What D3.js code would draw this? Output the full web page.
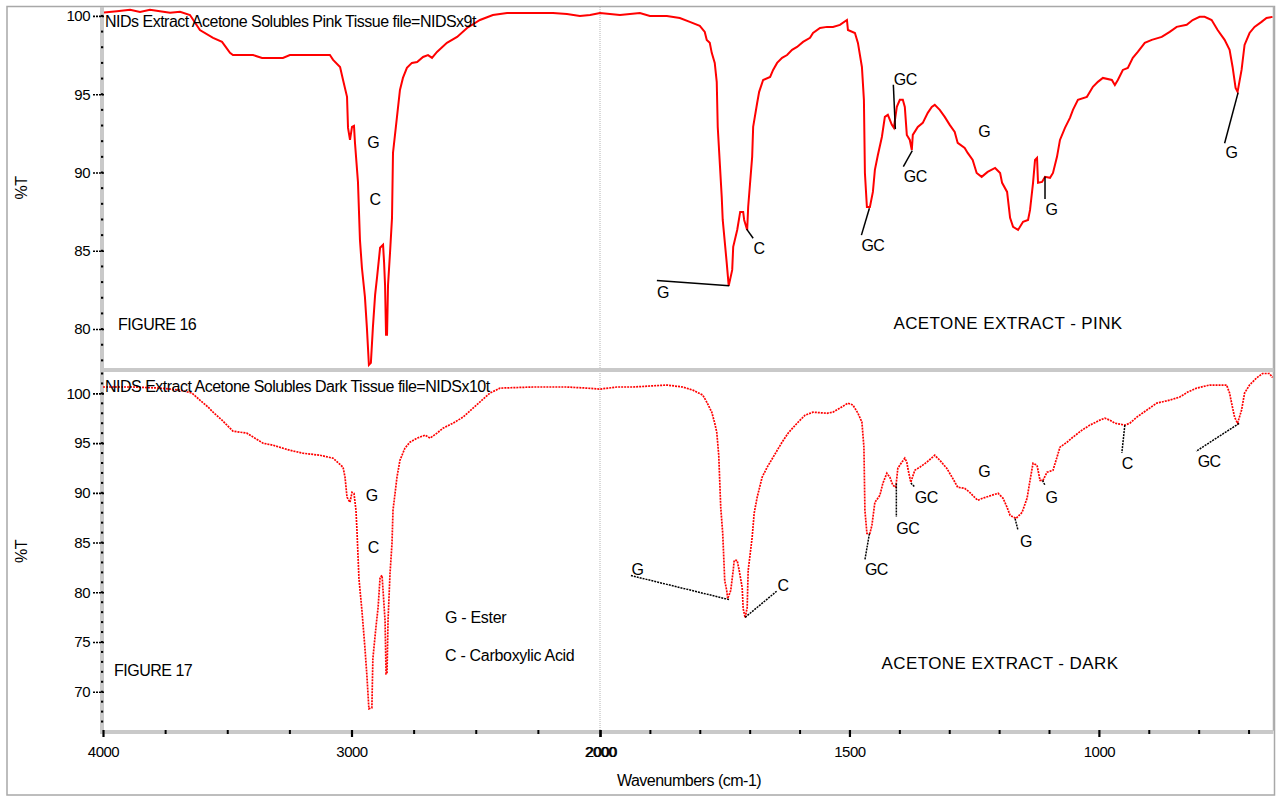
<!DOCTYPE html>
<html><head><meta charset="utf-8">
<script src="https://cdn.jsdelivr.net/npm/d3@7"></script>
<style>
body{margin:0;background:#fff;}
svg text{font-family:"Liberation Sans",Arial,sans-serif;fill:#000;letter-spacing:-0.5px;}
</style></head><body>
<svg id="chart" width="1276" height="797"></svg>
<script>
// ---------- DATA ----------
const pinkTitle = "NIDs Extract Acetone Solubles Pink Tissue file=NIDSx9t";
const darkTitle = "NIDS Extract Acetone Solubles Dark Tissue file=NIDSx10t";
const pinkSpectrum = [
[3996,100.22],[3944,100.3],[3891,100.4],[3851,100.26],[3811,100.4],[3771,100.3],[3730,100.2],[3690,100.26],[3650,100.06],[3610,99.1],
[3557,98.6],[3521,98.34],[3489,97.64],[3477,97.5],[3396,97.5],[3360,97.32],[3276,97.32],[3248,97.5],[3087,97.5],[3074,97.19],
[3046,96.74],[3034,95.91],[3018,94.83],[3014,92.85],[3006,92.08],[2998,92.91],[2990,92.98],[2986,91.89],[2974,89.4],[2966,85.7],
[2958,83.9],[2946,82.06],[2938,80.08],[2930,77.71],[2922,77.84],[2914,80.08],[2905,82.18],[2897,83.33],[2885,85.19],[2873,85.38],
[2869,84.29],[2865,82.82],[2861,79.63],[2857,79.63],[2853,82.82],[2845,84.87],[2837,87.1],[2833,91.25],[2817,93.55],[2805,95.27],
[2793,96.04],[2777,96.68],[2757,97.0],[2736,97.06],[2712,97.38],[2692,97.5],[2676,97.32],[2656,97.7],[2616,98.28],[2575,98.66],
[2535,99.23],[2483,99.74],[2431,100.06],[2374,100.19],[2270,100.19],[2189,100.19],[2133,100.13],[2081,100.0],[2040,100.06],[2000,100.19],
[1960,100.06],[1920,100.19],[1900,100.0],[1866,100.0],[1840,99.87],[1820,99.62],[1800,99.36],[1790,98.98],[1786,98.47],[1780,98.28],
[1776,97.64],[1770,97.0],[1766,95.79],[1764,92.91],[1756,88.44],[1754,86.97],[1746,84.23],[1742,82.76],[1735,83.78],[1733,85.25],
[1725,86.33],[1719,87.48],[1713,87.48],[1711,86.97],[1705,86.33],[1703,87.8],[1695,91.0],[1693,92.91],[1685,94.44],[1681,95.15],
[1673,95.91],[1659,96.1],[1653,96.55],[1645,97.0],[1635,97.32],[1625,97.5],[1615,97.83],[1605,98.02],[1593,98.34],[1579,98.6],
[1573,98.91],[1559,99.23],[1545,99.3],[1533,99.3],[1519,99.43],[1505,99.74],[1503,99.1],[1489,98.91],[1483,98.28],[1475,96.74],
[1471,94.64],[1469,89.97],[1465,87.8],[1459,87.8],[1453,88.76],[1449,90.17],[1443,91.12],[1435,92.27],[1429,93.55],[1423,93.68],
[1415,93.04],[1411,92.85],[1405,94.19],[1399,94.64],[1393,94.64],[1389,94.19],[1385,92.4],[1379,92.08],[1375,91.44],[1373,92.4],
[1363,92.91],[1353,93.17],[1343,93.81],[1335,94.19],[1329,94.32],[1319,94.0],[1309,93.55],[1299,93.04],[1289,92.59],[1283,91.89],
[1269,91.57],[1263,91.25],[1253,90.8],[1245,89.97],[1235,89.72],[1223,90.04],[1208,90.29],[1198,89.97],[1194,89.34],[1184,88.76],
[1178,87.1],[1172,86.53],[1162,86.33],[1152,86.85],[1142,86.97],[1138,87.61],[1132,89.34],[1128,90.8],[1124,90.93],[1122,89.34],
[1114,89.4],[1108,89.72],[1098,89.66],[1092,89.97],[1084,91.0],[1078,92.08],[1068,92.85],[1058,93.49],[1052,94.0],[1042,94.64],
[1024,94.83],[1012,95.47],[1002,95.79],[992,96.04],[974,95.91],[968,95.59],[962,95.91],[952,96.55],[942,96.68],[932,97.32],
[922,97.7],[908,98.28],[894,98.47],[874,98.66],[858,98.98],[844,99.3],[824,99.43],[812,99.74],[798,99.94],[788,99.94],
[774,99.74],[762,99.1],[748,98.47],[738,97.83],[732,96.74],[726,95.4],[722,95.15],[714,96.55],[708,98.15],[698,98.91],
[688,99.3],[674,99.62],[664,99.87],[652,99.94]
];
const darkSpectrum = [
[4000,100.64],[3879,100.64],[3771,100.53],[3690,100.33],[3642,100.03],[3610,99.32],[3577,98.62],[3557,98.11],[3521,97.31],[3489,96.5],
[3477,96.2],[3421,96.0],[3356,94.99],[3316,94.79],[3248,94.28],[3195,93.98],[3127,93.78],[3074,93.48],[3034,92.57],[3026,91.57],
[3018,89.55],[3006,89.05],[2998,90.05],[2990,89.95],[2982,88.24],[2978,86.22],[2970,81.38],[2958,78.15],[2946,74.42],[2938,71.6],
[2930,68.28],[2918,68.38],[2914,73.32],[2901,76.65],[2893,78.47],[2885,81.49],[2877,81.69],[2873,80.17],[2865,77.15],[2861,71.8],
[2857,71.8],[2853,77.15],[2845,81.89],[2837,84.92],[2833,88.24],[2817,91.57],[2805,93.28],[2785,94.49],[2765,95.09],[2736,95.5],
[2704,95.8],[2684,95.5],[2656,96.0],[2632,96.5],[2592,97.0],[2551,97.61],[2511,98.52],[2475,99.32],[2443,100.03],[2402,100.53],
[2270,100.64],[2133,100.64],[2053,100.53],[2000,100.43],
[1966,100.64],[1934,100.64],[1866,100.84],[1834,100.64],[1814,100.33],[1794,99.83],[1786,99.12],[1776,98.11],[1770,97.0],[1766,96.1],
[1762,93.78],[1758,88.54],[1754,85.92],[1750,81.18],[1746,80.17],[1744,79.37],[1738,80.17],[1733,82.19],[1731,83.2],[1725,83.2],
[1721,82.19],[1715,80.48],[1713,78.36],[1709,77.45],[1705,78.46],[1703,82.19],[1695,85.52],[1691,87.94],[1685,89.55],[1675,91.57],
[1665,92.57],[1653,93.58],[1635,95.1],[1623,96.0],[1605,97.0],[1589,97.81],[1573,98.11],[1545,98.0],[1533,98.11],[1519,98.52],
[1503,99.02],[1493,98.82],[1483,98.01],[1475,97.11],[1471,94.59],[1469,88.24],[1465,85.92],[1459,85.92],[1455,86.73],[1449,89.04],
[1439,89.75],[1433,90.96],[1425,91.97],[1419,91.57],[1413,90.76],[1407,90.56],[1403,92.47],[1395,93.08],[1389,93.48],[1385,93.08],
[1383,92.47],[1377,91.06],[1369,92.27],[1359,92.57],[1345,93.08],[1329,93.78],[1319,93.28],[1305,92.47],[1293,91.46],[1283,90.56],
[1269,90.45],[1259,90.05],[1249,89.55],[1243,89.25],[1233,89.45],[1215,89.75],[1202,89.95],[1192,89.45],[1184,88.54],[1178,87.73],
[1166,87.43],[1154,88.03],[1144,89.45],[1138,91.26],[1132,92.97],[1124,92.77],[1118,91.26],[1112,91.26],[1104,92.07],[1092,92.27],
[1084,93.58],[1078,94.59],[1064,95.09],[1052,95.6],[1034,96.3],[1018,96.81],[998,97.31],[988,97.51],[978,97.31],[968,97.0],
[948,96.81],[938,97.0],[924,97.61],[904,98.32],[884,99.02],[858,99.32],[838,99.63],[822,100.13],[804,100.53],[778,100.84],
[744,100.84],[738,100.03],[734,99.02],[728,97.61],[722,97.0],[714,98.32],[708,100.03],[698,100.84],[684,101.55],[672,102.0],
[658,102.0],[652,101.6]
];
const pinkYTicks = [80,85,90,95,100];
const darkYTicks = [70,75,80,85,90,95,100];
const leftXTicks = [4000,3000,2000];
const rightXTicks = [2000,1500,1000];
const leftXMinor = [3750,3500,3250,2750,2500,2250];
const rightXMinor = [1900,1800,1700,1600,1400,1300,1200,1100,900,800,700];
// peak labels: [text, wavenumber, %T]
const pinkLabels = [["G",2913,91.95],["C",2905,88.31],["G",1874,82.38],["C",1681,85.19],["GC",1453,85.33],["GC",1388,95.98],["GC",1368,89.74],["G",1230,92.61],["G",1095,87.68],["G",734,91.27]];
// leader lines: [wn1, T1, wn2, T2]
const pinkLeaders = [[1886,83.1,1741,82.76],[1706,86.38,1693,85.8],[1460,87.72,1476,86.0],[1412,95.6,1408,92.77],[1374,91.4,1392,90.38],[1108,89.74,1108,88.3],[721,95.1,748,91.87]];
const darkLabels = [["G",2919,89.75],["C",2912,84.54],["G",1925,82.29],["C",1633,80.68],["GC",1446,82.29],["GC",1383,86.39],["GC",1346,89.58],["G",1230,92.17],["G",1146,85.14],["G",1095,89.58],["C",943,93.0],["GC",779,93.21]];
const darkLeaders = [[1938,81.68,1741,79.26],[1709,77.48,1646,80.1],[1460,85.89,1469,83.27],[1406,90.93,1406,87.56],[1377,90.99,1369,90.58],[1168,87.4,1162,86.22],[1113,91.26,1108,90.76],[948,96.8,954,94.01],[719,96.98,805,94.18]];
const legendLines = ["G - Ester","C - Carboxylic Acid"];
const panelNotes = ["FIGURE 16","ACETONE EXTRACT - PINK","FIGURE 17","ACETONE EXTRACT - DARK"];

// ---------- LAYOUT ----------
const svg = d3.select("#chart");
const L = 103, S = 600, R = 1273.5;
const p1 = {top:7, bottom:369}, p2 = {top:372, bottom:731};
const x = d3.scaleLinear().domain([4000,2000,650]).range([L,S,R]);
const xLeft = d3.scaleLinear().domain([4000,2000]).range([L,S]);
const xRight = d3.scaleLinear().domain([2000,650]).range([S,R]);
const y1 = d3.scaleLinear().domain([77.45,100.57]).range([p1.bottom,p1.top]);
const y2 = d3.scaleLinear().domain([66.05,102.15]).range([p2.bottom,p2.top]);

// outer frame
svg.append("rect").attr("x",7).attr("y",6.5).attr("width",1267.5).attr("height",788.5)
  .attr("fill","none").attr("stroke","#a8a8a8").attr("stroke-width",1.5);
svg.append("line").attr("x1",R).attr("x2",R).attr("y1",6.5).attr("y2",p2.bottom)
  .attr("stroke","#b0b0b0").attr("stroke-width",1.5);

// split dotted line
svg.append("line").attr("x1",S).attr("x2",S).attr("y1",p1.top).attr("y2",p2.bottom)
  .attr("stroke","#b4b4b4").attr("stroke-width",1).attr("stroke-dasharray","1,1");

// gray axis bands
const band = "#c9c9c9";
svg.append("rect").attr("x",100).attr("y",p1.top).attr("width",4).attr("height",p2.bottom+3-p1.top).attr("fill",band);
svg.append("rect").attr("x",100).attr("y",p1.bottom-1).attr("width",R-100).attr("height",4).attr("fill",band);
svg.append("rect").attr("x",100).attr("y",p2.bottom-1).attr("width",R-100).attr("height",4).attr("fill",band);

function drawPanel(spec, y, yTicks, labels, leaders, dashed, panel, title){
  const clipId = "clip"+panel.top;
  svg.append("clipPath").attr("id",clipId).append("rect")
    .attr("x",L).attr("y",panel.top).attr("width",R-L).attr("height",panel.bottom-panel.top);
  const ax = svg.append("g").attr("transform",`translate(104,0)`)
    .call(d3.axisLeft(y).tickValues(yTicks).tickSize(11).tickPadding(3).tickFormat(d3.format("d")));
  ax.select(".domain").remove();
  ax.selectAll(".tick line").attr("stroke","#000").attr("stroke-width",1.6).attr("stroke-dasharray","2,1");
  ax.selectAll(".tick text").style("font-size","15px").style("font-family","Liberation Sans, Arial, sans-serif");
  const lo = Math.ceil(y.domain()[0]), hi = Math.floor(y.domain()[1]);
  svg.append("g").selectAll("rect").data(d3.range(lo,hi+1)).join("rect")
    .attr("x",101).attr("y",d=>y(d)-1).attr("width",2.2).attr("height",2).attr("fill","#000");
  svg.append("text").attr("transform",`translate(27,${(panel.top+panel.bottom)/2}) rotate(-90)`)
    .attr("text-anchor","middle").style("font-size","16px").text("%T");
  const line = d3.line().x(d=>x(d[0])).y(d=>y(d[1]));
  svg.append("path").datum(spec).attr("clip-path",`url(#${clipId})`)
    .attr("d",line).attr("fill","none").attr("stroke","#ff0000")
    .attr("stroke-width",dashed?1.7:2).attr("stroke-dasharray",dashed?"2,1":null)
    .attr("stroke-linejoin","miter");
  svg.append("g").selectAll("line").data(leaders).join("line")
    .attr("x1",d=>x(d[0])).attr("y1",d=>y(d[1])).attr("x2",d=>x(d[2])).attr("y2",d=>y(d[3]))
    .attr("stroke","#000").attr("stroke-width",1.5).attr("stroke-dasharray",dashed?"2,1":null);
  svg.append("g").selectAll("text").data(labels).join("text")
    .attr("x",d=>x(d[1])).attr("y",d=>y(d[2])).attr("text-anchor","middle").attr("dy","0.36em")
    .style("font-size","16px").text(d=>d[0]);
  svg.append("text").attr("x",105).attr("y",panel.top+20).style("font-size","16px").text(title);
}
drawPanel(pinkSpectrum, y1, pinkYTicks, pinkLabels, pinkLeaders, false, p1, pinkTitle);
drawPanel(darkSpectrum, y2, darkYTicks, darkLabels, darkLeaders, true, p2, darkTitle);

// figure annotations
svg.append("text").attr("x",118).attr("y",330).style("font-size","16px").text(panelNotes[0]);
svg.append("text").attr("x",114).attr("y",676).style("font-size","16px").text(panelNotes[2]);
svg.append("text").attr("x",1008).attr("y",329).attr("text-anchor","middle")
  .style("font-size","17px").style("letter-spacing","0.4px").text(panelNotes[1]);
svg.append("text").attr("x",1000).attr("y",669).attr("text-anchor","middle")
  .style("font-size","17px").style("letter-spacing","0.4px").text(panelNotes[3]);
svg.append("g").selectAll("text").data(legendLines).join("text")
  .attr("x",445).attr("y",(d,i)=>623+i*38).style("font-size","16px").style("letter-spacing","-0.3px").text(d=>d);

// x axes
function xAxis(scale, ticks, minor){
  const g = svg.append("g").attr("transform",`translate(0,${p2.bottom-1})`);
  g.call(d3.axisBottom(scale).tickValues(ticks).tickSize(7).tickPadding(9).tickFormat(d3.format("d")));
  g.select(".domain").remove();
  g.selectAll(".tick line").attr("stroke","#000").attr("stroke-width",2.2);
  g.selectAll(".tick text").style("font-size","15px").style("font-family","Liberation Sans, Arial, sans-serif");
  const m = svg.append("g").attr("transform",`translate(0,${p2.bottom-1})`);
  m.call(d3.axisBottom(scale).tickValues(minor).tickSize(4).tickFormat(""));
  m.select(".domain").remove();
  m.selectAll(".tick line").attr("stroke","#000").attr("stroke-width",2);
  return g;
}
xAxis(xLeft, leftXTicks, leftXMinor);
const gr = xAxis(xRight, rightXTicks, rightXMinor);
gr.selectAll(".tick text").filter(d=>d===2000).attr("dx",1);

svg.append("text").attr("x",689).attr("y",786).attr("text-anchor","middle").style("font-size","16px").text("Wavenumbers (cm-1)");
</script>
</body></html>
